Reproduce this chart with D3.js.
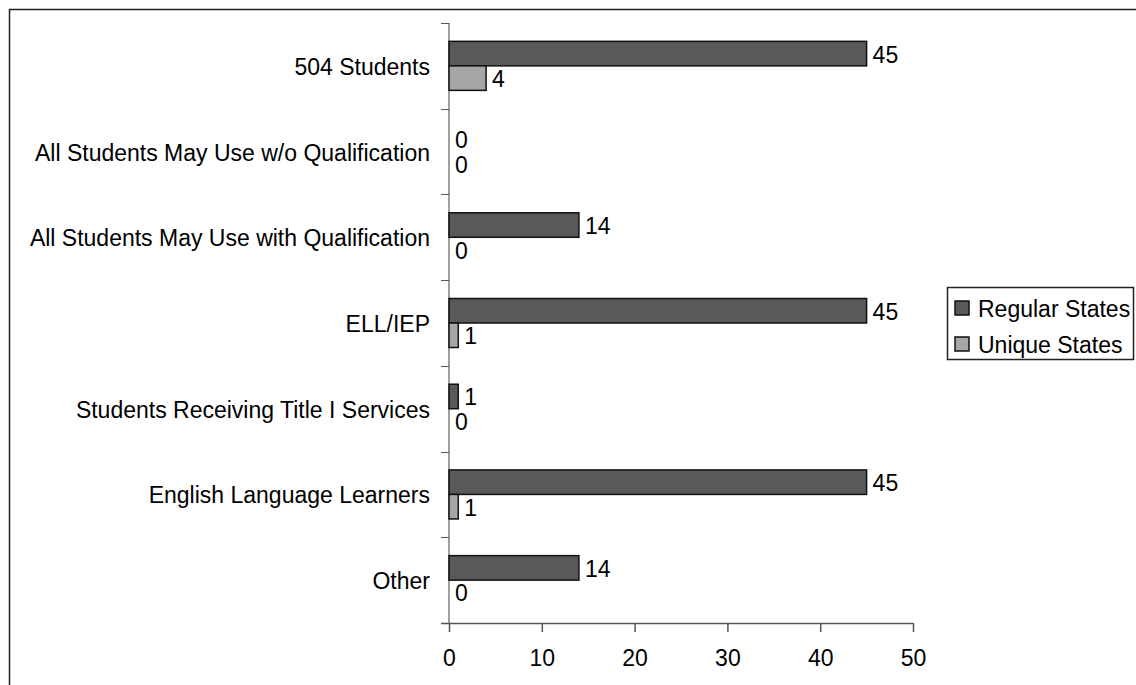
<!DOCTYPE html>
<html>
<head>
<meta charset="utf-8">
<script src="https://cdn.jsdelivr.net/npm/d3@7"></script>
<style>
  html, body { margin: 0; padding: 0; background: #fff; }
  svg { display: block; font-family: "Liberation Sans", Arial, sans-serif; }
</style>
</head>
<body>
<svg id="chart" width="1136" height="685"></svg>
<script>
// Accommodation eligibility by student group
const categories = [
  "504 Students",
  "All Students May Use w/o Qualification",
  "All Students May Use with Qualification",
  "ELL/IEP",
  "Students Receiving Title I Services",
  "English Language Learners",
  "Other"
];
const seriesNames = ["Regular States", "Unique States"];
const regularStates = [45, 0, 14, 45, 1, 45, 14];
const uniqueStates = [4, 0, 0, 1, 0, 1, 0];
const xTicks = [0, 10, 20, 30, 40, 50];

const colors = { "Regular States": "#595959", "Unique States": "#a6a6a6" };
const fontSize = 23;

const svg = d3.select("#chart");

// outer frame
svg.append("rect")
  .attr("x", 9.5).attr("y", 9.5)
  .attr("width", 1140).attr("height", 700)
  .attr("fill", "none").attr("stroke", "#222").attr("stroke-width", 1.5);

const plot = { left: 449, right: 913, top: 23, bottom: 623 };

const x = d3.scaleLinear().domain([0, 50]).range([plot.left, plot.right]);
const y = d3.scaleBand().domain(categories).range([plot.top, plot.bottom]).padding(0);
const bw = y.bandwidth();
const groupH = 49;
const ySeries = d3.scaleBand().domain(seriesNames)
  .range([(bw - groupH) / 2, (bw + groupH) / 2]).padding(0);

const rows = categories.map((c, i) => ({
  category: c,
  values: [
    { series: "Regular States", value: regularStates[i] },
    { series: "Unique States", value: uniqueStates[i] }
  ]
}));

// y axis with ticks at category boundaries
const g = svg.append("g");
g.append("line")
  .attr("x1", plot.left).attr("x2", plot.left)
  .attr("y1", plot.top).attr("y2", plot.bottom)
  .attr("stroke", "#808080").attr("stroke-width", 1.5);
const boundaries = categories.map(c => y(c)).concat([plot.bottom]);
g.selectAll(".ytick").data(boundaries).join("line")
  .attr("x1", plot.left - 8).attr("x2", plot.left)
  .attr("y1", d => Math.round(d) + 0.5).attr("y2", d => Math.round(d) + 0.5)
  .attr("stroke", "#555").attr("stroke-width", 1);

// category labels
g.selectAll(".ylabel").data(categories).join("text")
  .attr("x", 430)
  .attr("y", d => y(d) + bw / 2 + 1)
  .attr("text-anchor", "end")
  .attr("dominant-baseline", "central")
  .attr("font-size", fontSize)
  .attr("fill", "#000")
  .text(d => d);

// x axis
const xAxis = d3.axisBottom(x).tickValues(xTicks).tickSize(9).tickPadding(18).tickSizeOuter(0);
const xg = svg.append("g")
  .attr("transform", `translate(0,${plot.bottom})`)
  .call(xAxis);
xg.select(".domain").attr("stroke", "#555").attr("stroke-width", 1.5)
  .attr("d", `M${plot.left - 8},0.5H${plot.right}`);
xg.selectAll(".tick line").attr("stroke", "#555").attr("stroke-width", 1.5);
xg.selectAll(".tick text")
  .attr("font-size", fontSize)
  .attr("font-family", "Liberation Sans, Arial, sans-serif")
  .attr("fill", "#000");

// bars
const groups = svg.selectAll(".cat").data(rows).join("g")
  .attr("transform", d => `translate(0,${y(d.category)})`);

groups.selectAll("rect").data(d => d.values.filter(v => v.value > 0)).join("rect")
  .attr("x", x(0))
  .attr("y", d => ySeries(d.series))
  .attr("width", d => x(d.value) - x(0))
  .attr("height", ySeries.bandwidth())
  .attr("fill", d => colors[d.series])
  .attr("stroke", "#111")
  .attr("stroke-width", 1.5);

// value labels
groups.selectAll("text").data(d => d.values).join("text")
  .attr("x", d => x(d.value) + 6)
  .attr("y", d => ySeries(d.series) + ySeries.bandwidth() / 2 + 1)
  .attr("dominant-baseline", "central")
  .attr("font-size", fontSize)
  .attr("fill", "#000")
  .text(d => d.value);

// legend
const legend = svg.append("g").attr("transform", "translate(947,287)");
legend.append("rect")
  .attr("x", 0.5).attr("y", 0.5).attr("width", 186).attr("height", 72)
  .attr("fill", "#fff").attr("stroke", "#222").attr("stroke-width", 1.5);
const items = legend.selectAll(".item").data(seriesNames).join("g")
  .attr("transform", (d, i) => `translate(8,${21 + i * 36})`);
items.append("rect")
  .attr("x", 0).attr("y", -7).attr("width", 14).attr("height", 14)
  .attr("fill", d => colors[d]).attr("stroke", "#111").attr("stroke-width", 1.5);
items.append("text")
  .attr("x", 23).attr("y", 1)
  .attr("dominant-baseline", "central")
  .attr("font-size", fontSize)
  .attr("fill", "#000")
  .text(d => d);
</script>
</body>
</html>
